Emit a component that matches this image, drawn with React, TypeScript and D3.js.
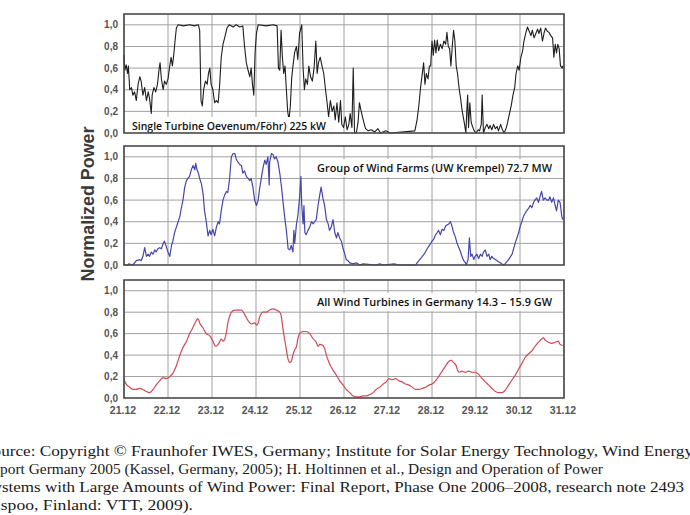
import React from "react";
import * as d3 from "d3";

// ---------- DATA ----------
const dayLabels = ["21.12", "22.12", "23.12", "24.12", "25.12", "26.12", "27.12", "28.12", "29.12", "30.12", "31.12"];
const yTickValues = [0, 0.2, 0.4, 0.6, 0.8, 1.0];

const panelTitles = [
  "Single Turbine Oevenum/Föhr) 225 kW",
  "Group of Wind Farms (UW Krempel) 72.7 MW",
  "All Wind Turbines in Germany 14.3 – 15.9 GW",
];

// days since 21.12 00:00
const singleTurbineDays = [
  0.00, 0.02, 0.05, 0.08, 0.10, 0.13, 0.17, 0.20, 0.24, 0.28, 0.32, 0.36, 0.39, 0.43, 0.47, 0.51, 0.55, 0.58, 0.62, 0.64,
  0.68, 0.72, 0.76, 0.80, 0.82, 0.85, 0.89, 0.92, 0.96, 1.00, 1.04, 1.07, 1.10, 1.13, 1.16, 1.19, 1.23, 1.35, 1.49, 1.60,
  1.69, 1.72, 1.75, 1.78, 1.81, 1.85, 1.89, 1.92, 1.95, 1.98, 2.02, 2.06, 2.10, 2.14, 2.17, 2.21, 2.25, 2.30, 2.34, 2.39,
  2.48, 2.55, 2.63, 2.70, 2.74, 2.78, 2.82, 2.86, 2.89, 2.92, 2.95, 2.98, 3.01, 3.05, 3.23, 3.39, 3.48, 3.51, 3.54, 3.57,
  3.60, 3.63, 3.66, 3.69, 3.72, 3.75, 3.78, 3.81, 3.84, 3.88, 3.92, 3.95, 3.99, 4.04, 4.07, 4.10, 4.13, 4.17, 4.20, 4.24,
  4.28, 4.32, 4.36, 4.39, 4.42, 4.46, 4.50, 4.54, 4.58, 4.61, 4.65, 4.69, 4.73, 4.77, 4.80, 4.84, 4.88, 4.92, 4.95, 4.99,
  5.03, 5.07, 5.11, 5.14, 5.18, 5.21, 5.24, 5.28, 5.32, 5.35, 5.38, 5.42, 5.45, 5.49, 5.55, 5.62, 5.70, 5.77, 5.83, 5.95,
  6.05, 6.61, 6.66, 6.70, 6.74, 6.78, 6.81, 6.84, 6.87, 6.91, 6.94, 6.97, 7.00, 7.03, 7.06, 7.09, 7.12, 7.15, 7.19, 7.23,
  7.27, 7.31, 7.34, 7.37, 7.40, 7.43, 7.46, 7.49, 7.52, 7.55, 7.58, 7.62, 7.65, 7.68, 7.71, 7.74, 7.77, 7.79, 7.81, 7.83,
  7.86, 7.89, 7.92, 7.96, 8.00, 8.05, 8.08, 8.12, 8.14, 8.17, 8.21, 8.25, 8.29, 8.32, 8.36, 8.40, 8.44, 8.48, 8.51, 8.56,
  8.60, 8.64, 8.69, 8.72, 8.76, 8.80, 8.84, 8.88, 8.91, 8.95, 8.98, 9.02, 9.06, 9.09, 9.13, 9.17, 9.21, 9.25, 9.28, 9.32,
  9.36, 9.40, 9.43, 9.47, 9.51, 9.55, 9.58, 9.62, 9.66, 9.70, 9.74, 9.77, 9.80, 9.83, 9.86, 9.89, 9.92, 9.96, 9.97,
];
const singleTurbinePower = [
  0.72, 0.58, 0.63, 0.55, 0.62, 0.40, 0.42, 0.35, 0.38, 0.30, 0.45, 0.52, 0.48, 0.35, 0.42, 0.30, 0.38, 0.32, 0.18, 0.35,
  0.42, 0.38, 0.45, 0.60, 0.65, 0.50, 0.40, 0.48, 0.45, 0.50, 0.62, 0.70, 0.62, 0.72, 0.85, 0.97, 1.00, 0.99, 1.00, 0.99,
  1.00, 0.95, 0.30, 0.25, 0.40, 0.48, 0.45, 0.55, 0.60, 0.45, 0.40, 0.28, 0.30, 0.28, 0.42, 0.70, 0.82, 0.90, 0.97, 1.00,
  0.98, 1.00, 0.98, 0.99, 0.80, 0.65, 0.58, 0.52, 0.60, 0.45, 0.35, 0.75, 0.92, 1.00, 0.99, 1.00, 0.99, 0.60, 0.58, 0.95,
  0.70, 0.55, 0.62, 0.40, 0.20, 0.12, 0.25, 0.50, 0.62, 0.75, 0.80, 0.68, 0.92, 1.00, 0.60, 0.40, 0.50, 0.45, 0.62, 0.52,
  0.48, 0.60, 0.85, 0.55, 0.65, 0.70, 0.62, 0.55, 0.40, 0.30, 0.15, 0.30, 0.20, 0.25, 0.12, 0.28, 0.10, 0.30, 0.08, 0.05,
  0.15, 0.03, 0.08, 0.18, 0.05, 0.60, 0.00, 0.00, 0.10, 0.28, 0.22, 0.15, 0.10, 0.04, 0.02, 0.03, 0.01, 0.04, 0.00, 0.02,
  0.00, 0.02, 0.12, 0.25, 0.42, 0.55, 0.65, 0.45, 0.55, 0.50, 0.62, 0.62, 0.85, 0.72, 0.86, 0.74, 0.86, 0.76, 0.82, 0.78,
  0.85, 0.82, 0.93, 0.80, 0.78, 0.62, 0.80, 0.95, 0.85, 0.62, 0.55, 0.40, 0.32, 0.22, 0.15, 0.08, 0.00, 0.20, 0.35, 0.05,
  0.28, 0.10, 0.06, 0.02, 0.00, 0.03, 0.02, 0.08, 0.35, 0.00, 0.05, 0.08, 0.04, 0.07, 0.03, 0.08, 0.04, 0.06, 0.02, 0.08,
  0.03, 0.00, 0.05, 0.10, 0.18, 0.25, 0.35, 0.42, 0.55, 0.62, 0.58, 0.70, 0.76, 0.85, 0.92, 0.98, 0.94, 0.90, 0.95, 0.88,
  0.92, 0.96, 0.92, 0.97, 0.85, 0.93, 0.97, 0.94, 0.93, 0.90, 0.88, 0.70, 0.82, 0.74, 0.82, 0.78, 0.62, 0.60, 0.62,
];

const windFarmDays = [
  0.015, 0.09, 0.11, 0.20, 0.28, 0.36, 0.39, 0.43, 0.47, 0.51, 0.55, 0.58, 0.62, 0.66, 0.70, 0.73, 0.77, 0.81, 0.85, 0.89,
  0.92, 0.96, 1.00, 1.04, 1.08, 1.11, 1.15, 1.19, 1.23, 1.27, 1.30, 1.34, 1.38, 1.42, 1.45, 1.49, 1.53, 1.57, 1.61, 1.63,
  1.66, 1.69, 1.72, 1.76, 1.80, 1.83, 1.87, 1.91, 1.95, 1.98, 2.02, 2.06, 2.10, 2.14, 2.17, 2.21, 2.25, 2.29, 2.33, 2.36,
  2.40, 2.44, 2.48, 2.52, 2.55, 2.59, 2.63, 2.67, 2.70, 2.74, 2.78, 2.82, 2.86, 2.89, 2.93, 2.97, 3.01, 3.05, 3.08, 3.12,
  3.16, 3.20, 3.23, 3.27, 3.30, 3.31, 3.35, 3.39, 3.42, 3.46, 3.50, 3.54, 3.58, 3.61, 3.65, 3.69, 3.73, 3.77, 3.80, 3.84,
  3.86, 3.88, 3.92, 3.95, 3.99, 4.02, 4.04, 4.07, 4.09, 4.11, 4.14, 4.18, 4.22, 4.26, 4.30, 4.33, 4.37, 4.41, 4.45, 4.48,
  4.52, 4.56, 4.60, 4.64, 4.67, 4.71, 4.75, 4.79, 4.83, 4.86, 4.90, 4.94, 4.98, 5.02, 5.05, 5.09, 5.13, 5.20, 5.28, 5.36,
  5.43, 5.73, 5.81, 5.89, 6.14, 6.25, 6.63, 6.66, 6.74, 6.82, 6.89, 6.97, 7.00, 7.04, 7.08, 7.12, 7.15, 7.19, 7.23, 7.27,
  7.31, 7.34, 7.38, 7.42, 7.46, 7.49, 7.53, 7.57, 7.61, 7.65, 7.68, 7.72, 7.76, 7.78, 7.82, 7.85, 7.88, 7.91, 7.95, 7.98,
  8.02, 8.06, 8.10, 8.14, 8.17, 8.21, 8.25, 8.29, 8.32, 8.36, 8.40, 8.44, 8.48, 8.51, 8.55, 8.59, 8.63, 8.66, 8.74, 8.82,
  8.89, 8.97, 9.00, 9.04, 9.08, 9.12, 9.15, 9.19, 9.23, 9.27, 9.31, 9.34, 9.38, 9.42, 9.46, 9.49, 9.53, 9.57, 9.61, 9.65,
  9.68, 9.72, 9.76, 9.80, 9.83, 9.87, 9.91, 9.95, 9.97,
];
const windFarmPower = [
  0.00, 0.00, 0.01, 0.00, 0.04, 0.05, 0.04, 0.08, 0.16, 0.08, 0.10, 0.08, 0.12, 0.10, 0.14, 0.12, 0.15, 0.16, 0.15, 0.20,
  0.22, 0.17, 0.12, 0.08, 0.18, 0.22, 0.30, 0.35, 0.40, 0.45, 0.52, 0.60, 0.72, 0.78, 0.80, 0.82, 0.88, 0.92, 0.88, 0.94,
  0.88, 0.85, 0.80, 0.75, 0.65, 0.50, 0.40, 0.27, 0.32, 0.28, 0.33, 0.27, 0.35, 0.40, 0.38, 0.50, 0.60, 0.65, 0.68, 0.67,
  0.80, 1.00, 1.03, 1.03, 0.98, 0.95, 0.93, 0.92, 0.85, 0.87, 0.82, 0.80, 0.78, 0.80, 0.72, 0.60, 0.55, 0.60, 0.70, 0.80,
  0.90, 0.97, 0.93, 1.00, 0.74, 0.95, 1.03, 1.02, 0.98, 1.00, 0.95, 0.85, 0.72, 0.60, 0.45, 0.32, 0.15, 0.14, 0.18, 0.12,
  0.32, 0.20, 0.38, 0.45, 0.62, 0.82, 0.55, 0.38, 0.55, 0.30, 0.28, 0.32, 0.35, 0.40, 0.38, 0.40, 0.42, 0.55, 0.65, 0.72,
  0.62, 0.55, 0.42, 0.38, 0.32, 0.35, 0.42, 0.30, 0.25, 0.30, 0.25, 0.22, 0.15, 0.10, 0.05, 0.04, 0.02, 0.01, 0.02, 0.00,
  0.01, 0.00, 0.01, 0.00, 0.01, 0.00, 0.00, 0.02, 0.06, 0.10, 0.15, 0.20, 0.22, 0.24, 0.28, 0.30, 0.32, 0.28, 0.33, 0.32,
  0.36, 0.37, 0.38, 0.40, 0.35, 0.30, 0.26, 0.20, 0.16, 0.12, 0.08, 0.04, 0.02, 0.00, 0.05, 0.25, 0.08, 0.10, 0.05, 0.08,
  0.10, 0.06, 0.10, 0.08, 0.12, 0.14, 0.08, 0.10, 0.05, 0.08, 0.06, 0.05, 0.04, 0.03, 0.02, 0.01, 0.00, 0.01, 0.05, 0.10,
  0.20, 0.30, 0.35, 0.40, 0.45, 0.48, 0.50, 0.52, 0.55, 0.53, 0.58, 0.60, 0.62, 0.58, 0.64, 0.68, 0.60, 0.62, 0.60, 0.60,
  0.63, 0.58, 0.62, 0.55, 0.50, 0.60, 0.58, 0.45, 0.42,
];

const germanyDays = [
  0.00, 0.05, 0.13, 0.20, 0.28, 0.36, 0.43, 0.51, 0.58, 0.66, 0.73, 0.81, 0.89, 0.96, 1.04, 1.11, 1.19, 1.27, 1.34, 1.42,
  1.49, 1.57, 1.64, 1.68, 1.72, 1.80, 1.87, 1.95, 2.02, 2.08, 2.14, 2.17, 2.21, 2.25, 2.29, 2.33, 2.36, 2.40, 2.44, 2.52,
  2.59, 2.67, 2.74, 2.82, 2.89, 2.97, 3.01, 3.05, 3.08, 3.16, 3.23, 3.31, 3.39, 3.46, 3.54, 3.58, 3.61, 3.65, 3.69, 3.73,
  3.77, 3.80, 3.84, 3.88, 3.92, 3.95, 3.99, 4.07, 4.14, 4.22, 4.30, 4.37, 4.41, 4.45, 4.52, 4.56, 4.60, 4.67, 4.75, 4.83,
  4.90, 4.98, 5.05, 5.13, 5.20, 5.28, 5.36, 5.43, 5.51, 5.58, 5.66, 5.73, 5.81, 5.89, 5.96, 6.02, 6.10, 6.17, 6.25, 6.32,
  6.40, 6.48, 6.55, 6.63, 6.70, 6.78, 6.85, 6.93, 7.00, 7.08, 7.15, 7.23, 7.31, 7.38, 7.44, 7.49, 7.55, 7.59, 7.62, 7.68,
  7.76, 7.83, 7.91, 7.98, 8.06, 8.14, 8.21, 8.29, 8.36, 8.44, 8.51, 8.59, 8.66, 8.74, 8.82, 8.89, 8.97, 9.04, 9.12, 9.19,
  9.27, 9.34, 9.42, 9.49, 9.53, 9.57, 9.65, 9.72, 9.80, 9.87, 9.91, 9.97,
];
const germanyPower = [
  0.17, 0.13, 0.10, 0.08, 0.08, 0.09, 0.08, 0.06, 0.05, 0.08, 0.12, 0.16, 0.19, 0.18, 0.20, 0.23, 0.30, 0.40, 0.47, 0.53,
  0.60, 0.66, 0.72, 0.74, 0.70, 0.65, 0.60, 0.58, 0.53, 0.48, 0.50, 0.52, 0.55, 0.53, 0.55, 0.62, 0.70, 0.76, 0.80, 0.82,
  0.82, 0.82, 0.78, 0.72, 0.69, 0.70, 0.68, 0.70, 0.75, 0.80, 0.80, 0.82, 0.83, 0.82, 0.80, 0.75, 0.65, 0.55, 0.45, 0.36,
  0.33, 0.34, 0.40, 0.45, 0.48, 0.55, 0.60, 0.62, 0.62, 0.60, 0.55, 0.52, 0.48, 0.50, 0.49, 0.46, 0.40, 0.32, 0.26, 0.21,
  0.16, 0.12, 0.08, 0.05, 0.02, 0.01, 0.01, 0.02, 0.02, 0.03, 0.05, 0.08, 0.10, 0.13, 0.15, 0.18, 0.17, 0.18, 0.16, 0.15,
  0.13, 0.12, 0.10, 0.08, 0.08, 0.09, 0.10, 0.12, 0.13, 0.16, 0.20, 0.25, 0.30, 0.34, 0.35, 0.33, 0.30, 0.25, 0.24, 0.25,
  0.24, 0.25, 0.24, 0.24, 0.22, 0.18, 0.15, 0.12, 0.09, 0.06, 0.05, 0.05, 0.07, 0.12, 0.17, 0.21, 0.27, 0.32, 0.38, 0.41,
  0.44, 0.48, 0.52, 0.55, 0.56, 0.54, 0.52, 0.51, 0.52, 0.53, 0.50, 0.49,
];

const sourceLines = [
  "Source: Copyright © Fraunhofer IWES, Germany; Institute for Solar Energy Technology, Wind Energy",
  "Report Germany 2005 (Kassel, Germany, 2005); H. Holtinnen et al., Design and Operation of Power",
  "Systems with Large Amounts of Wind Power: Final Report, Phase One 2006–2008, research note 2493",
  "Espoo, Finland: VTT, 2009).",
];

// ---------- LAYOUT ----------
const W = 690;
const H = 515;
const x = d3.scaleLinear().domain([0, 10]).range([124, 564]);

const panels = [
  { top: 14, bottom: 133, days: singleTurbineDays, power: singleTurbinePower, color: "#1e1e1e", sw: 1.1, curve: d3.curveLinear,
    title: panelTitles[0], tx: 132, ty: 130, tw: 194, box: [125, 117, 205, 16] },
  { top: 146, bottom: 265, days: windFarmDays, power: windFarmPower, color: "#4646ad", sw: 1.2, curve: d3.curveLinear,
    title: panelTitles[1], tx: 317, ty: 172, tw: 235, box: [311, 159, 248, 18] },
  { top: 280, bottom: 398, days: germanyDays, power: germanyPower, color: "#cf4a55", sw: 1.2, curve: d3.curveMonotoneX,
    title: panelTitles[2], tx: 317, ty: 306, tw: 235, box: [311, 293, 248, 18] },
];

const sourceLayout = [
  { x: -17, len: 710, y: 456 },
  { x: -17, len: 620, y: 474 },
  { x: -16, len: 700, y: 492 },
  { x: -10, len: 203, y: 510 },
];

const fmt = (v: number) => d3.format(".1f")(v).replace(".", ",");

function Panel({ p }: { p: (typeof panels)[number] }) {
  const y = d3.scaleLinear().domain([0, 1.1]).range([p.bottom, p.top]);
  const pts: [number, number][] = p.days.map((d, i) => [d, p.power[i]]);
  const line = d3
    .line<[number, number]>()
    .x((d) => x(d[0]))
    .y((d) => y(d[1]))
    .curve(p.curve);
  const [x0, x1] = x.range();
  return (
    <g>
      <rect x={x0} y={p.top} width={x1 - x0} height={p.bottom - p.top} fill="#fff" />
      {yTickValues.filter((v) => v > 0).map((v) => (
        <line key={"h" + v} x1={x0} x2={x1} y1={y(v)} y2={y(v)} stroke="#a0a0a0" strokeWidth={1} />
      ))}
      {dayLabels.map((_, i) => (
        <line key={"v" + i} x1={x(i)} x2={x(i)} y1={p.top} y2={p.bottom} stroke="#a0a0a0" strokeWidth={1} />
      ))}
      <path d={line(pts) || ""} fill="none" stroke={p.color} strokeWidth={p.sw} strokeLinejoin="round" />
      <rect x={p.box[0]} y={p.box[1]} width={p.box[2]} height={p.box[3]} fill="#fff" />
      <text
        x={p.tx}
        y={p.ty}
        fontFamily="'Open Sans', 'Liberation Sans', sans-serif"
        fontWeight={600}
        fontSize={11}
        fill="#111"
        textLength={p.tw}
        lengthAdjust="spacingAndGlyphs"
      >
        {p.title}
      </text>
      <rect x={x0} y={p.top} width={x1 - x0} height={p.bottom - p.top} fill="none" stroke="#4a4a4a" strokeWidth={1.6} />
      {yTickValues.map((v) => (
        <text
          key={"t" + v}
          x={118}
          y={y(v)}
          dy="0.35em"
          textAnchor="end"
          fontFamily="'Liberation Sans', Arial, sans-serif"
          fontWeight={700}
          fontSize={10}
          fill="#555"
        >
          {fmt(v)}
        </text>
      ))}
    </g>
  );
}

export default function App() {
  return (
    <svg
      width={W}
      height={H}
      viewBox={`0 0 ${W} ${H}`}
      style={{ position: "absolute", left: 0, top: 0, background: "#fff" }}
    >
      <rect x={0} y={0} width={W} height={H} fill="#fff" />
      {panels.map((p, i) => (
        <Panel key={i} p={p} />
      ))}
      {dayLabels.map((d, i) => (
        <text
          key={d}
          x={x(i) - 1}
          y={414}
          textAnchor="middle"
          fontFamily="'Liberation Sans', Arial, sans-serif"
          fontWeight={700}
          fontSize={10.5}
          fill="#555"
        >
          {d}
        </text>
      ))}
      <text
        transform="translate(94,204) rotate(-90)"
        textAnchor="middle"
        fontFamily="'Liberation Sans', Arial, sans-serif"
        fontSize={18}
        fontWeight={700}
        fill="#3a3a3a"
        textLength={155}
        lengthAdjust="spacingAndGlyphs"
      >
        Normalized Power
      </text>
      {sourceLines.map((s, i) => (
        <text
          key={i}
          x={sourceLayout[i].x}
          y={sourceLayout[i].y}
          fontFamily="'Liberation Serif', 'DejaVu Serif', serif"
          fontSize={15.5}
          fill="#1a1a1a"
          textLength={sourceLayout[i].len}
          lengthAdjust="spacingAndGlyphs"
        >
          {s}
        </text>
      ))}
    </svg>
  );
}
